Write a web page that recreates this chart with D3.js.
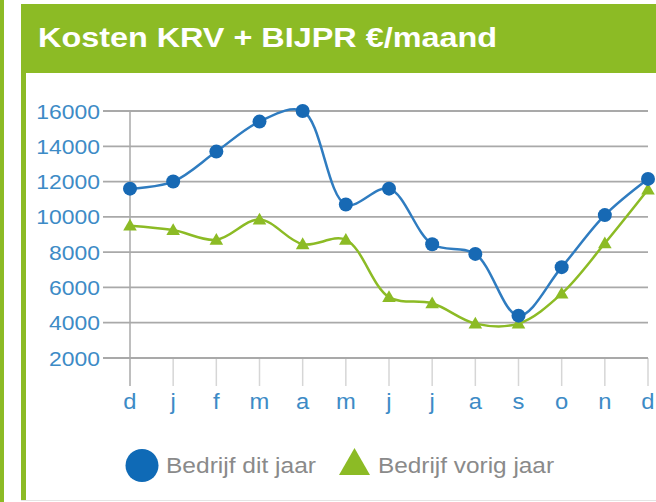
<!DOCTYPE html>
<html>
<head>
<meta charset="utf-8">
<script src="https://cdn.jsdelivr.net/npm/d3@7"></script>
<style>
  body { margin: 0; background: #fff; }
  text { font-family: "Liberation Sans", Arial, sans-serif; }
</style>
</head>
<body>
<script>
// months shown on the x axis (dec .. dec)
var months = ["d", "j", "f", "m", "a", "m", "j", "j", "a", "s", "o", "n", "d"];
// costs this year
var ditJaar = [11600, 12000, 13700, 15400, 16000, 10700, 11600, 8450, 7900, 4400, 7150, 10100, 12150];
// costs previous year
var vorigJaar = [9500, 9250, 8700, 9850, 8450, 8700, 5450, 5100, 3950, 3950, 5650, 8500, 11550];
var yTicks = [2000, 4000, 6000, 8000, 10000, 12000, 14000, 16000];
var legendLabels = ["Bedrijf dit jaar", "Bedrijf vorig jaar"];

var W = 656, H = 502;
var blue = "#2f7cc0", blueDot = "#1769b4", green = "#8cbb25", labelBlue = "#3d8bc6";

// widen text a bit, the source picture is stretched horizontally
function stretch(sel, k) {
  sel.each(function() {
    var n = this.getComputedTextLength();
    d3.select(this).attr("textLength", n * k).attr("lengthAdjust", "spacingAndGlyphs");
  });
}

function main() {
  var svg = d3.select("body").append("svg").attr("width", W).attr("height", H);

  // frame
  svg.append("rect").attr("x", 0).attr("y", 0).attr("width", 4).attr("height", H).attr("fill", green);
  svg.append("rect").attr("x", 21).attr("y", 4).attr("width", W - 21).attr("height", H - 6).attr("fill", green);
  svg.append("rect").attr("x", 26).attr("y", 73).attr("width", W - 26).attr("height", 427).attr("fill", "#fff");
  svg.append("line").attr("x1", 21).attr("x2", W).attr("y1", 500.5).attr("y2", 500.5)
    .attr("stroke", "#e4e4e4").attr("stroke-width", 1);

  var title = svg.append("text").attr("x", 38).attr("y", 47)
    .attr("fill", "#fff").attr("font-size", 28).attr("font-weight", "bold")
    .text("Kosten KRV + BIJPR €/maand");
  title.attr("textLength", 459).attr("lengthAdjust", "spacingAndGlyphs");

  var x = d3.scalePoint().domain(d3.range(months.length)).range([130, 648]);
  var y = d3.scaleLinear().domain([2000, 16000]).range([358, 111]);

  // vertical grid
  svg.append("g").selectAll("line").data(d3.range(months.length)).enter().append("line")
    .attr("x1", function(d) { return x(d); }).attr("x2", function(d) { return x(d); })
    .attr("y1", function(d) { return d == 0 ? y(16000) : y(2000); })
    .attr("y2", 386)
    .attr("stroke", function(d) { return d == 0 ? "#a8a8a8" : "#d6d6d6"; })
    .attr("stroke-width", 1.5);

  // horizontal grid
  svg.append("g").selectAll("line").data(yTicks).enter().append("line")
    .attr("x1", 103).attr("x2", 648)
    .attr("y1", function(d) { return y(d); }).attr("y2", function(d) { return y(d); })
    .attr("stroke", "#a9a9a9").attr("stroke-width", 1.8);

  // y labels
  var yl = svg.append("g").selectAll("text").data(yTicks).enter().append("text")
    .attr("x", 100).attr("y", function(d) { return y(d); }).attr("dy", "0.36em")
    .attr("text-anchor", "end").attr("font-size", 21).attr("fill", labelBlue)
    .text(function(d) { return d; });
  stretch(yl, 1.09);

  // x labels
  var xl = svg.append("g").selectAll("text").data(months).enter().append("text")
    .attr("x", function(d, i) { return x(i); }).attr("y", 409)
    .attr("text-anchor", "middle").attr("font-size", 22).attr("fill", labelBlue)
    .text(function(d) { return d; });
  stretch(xl, 1.08);

  var line = d3.line().curve(d3.curveCatmullRom)
    .x(function(d, i) { return x(i); }).y(function(d) { return y(d); });

  svg.append("path").datum(vorigJaar).attr("d", line)
    .attr("fill", "none").attr("stroke", green).attr("stroke-width", 2.5);
  svg.append("path").datum(ditJaar).attr("d", line)
    .attr("fill", "none").attr("stroke", blue).attr("stroke-width", 2.5);

  var tri = d3.symbol().type(d3.symbolTriangle).size(80);
  svg.append("g").selectAll("path").data(vorigJaar).enter().append("path")
    .attr("d", tri)
    .attr("transform", function(d, i) { return "translate(" + x(i) + "," + (y(d) + 1) + ")"; })
    .attr("fill", green);

  svg.append("g").selectAll("circle").data(ditJaar).enter().append("circle")
    .attr("cx", function(d, i) { return x(i); }).attr("cy", function(d) { return y(d); })
    .attr("r", 7).attr("fill", blueDot);

  // legend
  svg.append("circle").attr("cx", 142).attr("cy", 465.5).attr("r", 16.5).attr("fill", "#0f6ab6");
  var l1 = svg.append("text").attr("x", 166).attr("y", 473).attr("font-size", 22)
    .attr("fill", "#8a8a8a").text(legendLabels[0]);
  l1.attr("textLength", 150).attr("lengthAdjust", "spacingAndGlyphs");

  svg.append("path").attr("d", "M339,475L370,475L354.5,448Z").attr("fill", green);
  var l2 = svg.append("text").attr("x", 378).attr("y", 473).attr("font-size", 22)
    .attr("fill", "#8a8a8a").text(legendLabels[1]);
  l2.attr("textLength", 176).attr("lengthAdjust", "spacingAndGlyphs");
}

window.onload = function() {
  main();
};
</script>
</body>
</html>
